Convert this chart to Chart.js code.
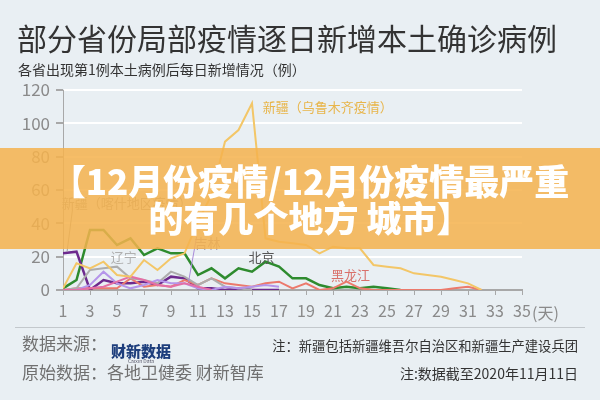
<!DOCTYPE html>
<html>
<head>
<meta charset="utf-8">
<script src="https://cdn.jsdelivr.net/npm/chart.js@4/dist/chart.umd.min.js"></script>
<style>
  html, body { margin: 0; padding: 0; }
  body { width: 600px; height: 400px; background: #e9eff3; position: relative; overflow: hidden;
         font-family: "Noto Sans CJK SC", "Noto Sans", sans-serif; }
  #chart { position: absolute; left: 0; top: 0; }
  .t { position: absolute; white-space: nowrap; }
  #title { left: 17px; top: 22px; font-size: 30px; line-height: 30px; color: #333; }
  #subtitle { left: 18px; top: 62px; font-size: 14px; line-height: 14px; color: #333; }
  #banner { position: absolute; left: 0; top: 148px; width: 600px; height: 101px;
            background: rgba(245, 178, 78, 0.86); }
  #banner div { position: absolute; left: 20px; width: 580px; text-align: center; color: #fff;
                font-weight: 900; font-size: 35px; line-height: 37px; white-space: nowrap; }
  #day { left: 532px; top: 303px; font-size: 16px; line-height: 18px; color: #8a8a8a; }
  #sep { position: absolute; left: 15px; top: 327px; width: 570px; height: 1px; background: #c3c8cc; }
  #src { left: 22px; top: 334px; font-size: 17px; line-height: 18px; color: #707070; }
  #logo { left: 111px; top: 343px; color: #1d3e7c; font-weight: 900; font-size: 15px; line-height: 15px; }
  #logo small { display: block; font-size: 5px; line-height: 5px; font-weight: normal; text-align: center; color: #556; }
  #note1 { right: 22px; top: 339px; font-size: 13.3px; line-height: 14px; color: #333; }
  #orig { left: 22px; top: 363px; font-size: 17px; line-height: 18px; color: #707070; }
  #note2 { right: 22px; top: 366px; font-size: 14px; line-height: 14px; color: #333; }
</style>
</head>
<body>
<canvas id="chart" width="600" height="400"></canvas>
<div class="t" id="title">部分省份局部疫情逐日新增本土确诊病例</div>
<div class="t" id="subtitle">各省出现第1例本土病例后每日新增情况（例）</div>
<div class="t" id="day">(天)</div>
<div id="sep"></div>
<div class="t" id="src">数据来源：</div>
<div class="t" id="logo">财新数据<small>Caixin Data</small></div>
<div class="t" id="note1">注：新疆包括新疆维吾尔自治区和新疆生产建设兵团</div>
<div class="t" id="orig">原始数据：各地卫健委 财新智库</div>
<div class="t" id="note2">注:数据截至2020年11月11日</div>
<div id="banner">
  <div style="top: 13px;">【12月份疫情/12月份疫情最严重</div>
  <div style="top: 50px;">的有几个地方 城市】</div>
</div>
<script>
// daily new local cases, day 1 = first local case in each province
const urumqi = [1, 16, 13, 17, 9, 8, 18, 12, 19, 22, 41, 57, 89, 96, 112, 31, 29, 28, 27, 22, 26, 25, 25, 15, 14, 13, 10, 9, 8, 6, 4, 0];
const beijing = [1, 6, 36, 36, 27, 31, 21, 25, 22, 22, 9, 13, 7, 13, 11, 17, 14, 7, 7, 3, 1, 2, 1, 2, 1, 0];
const kashgar = [22, 23, 0, 6, 4, 4, 5, 3, 8, 7, 1, 1, 0, 1, 0, 0, 0];
const liaoning = [0, 1, 12, 13, 14, 7, 6, 4, 11, 8, 3, 7, 2, 1, 0];
const jilin = [0, 0, 3, 11, 4, 1, 3, 6, 4, 4, 1, 0, 2, 1, 2, 3, 2];
const heilongjiang = [0, 1, 1, 1, 1, 7, 2, 3, 2, 6, 3, 7, 4, 3, 2, 4, 5, 1, 4, 0, 1, 5, 1, 0, 0, 0, 0, 0, 0, 1, 2, 0];
const other = [0, 0, 1, 2, 5, 8, 6, 3, 2, 4, 2, 0];

const xTicks = [1, 35, 2];      // min, max, step
const yTicks = [0, 120, 20];

// text labels next to the lines, placed in data units (day, cases)
const notes = [
    { text: '新疆（乌鲁木齐疫情）', day: 15.8, v: 110, color: '#e8b54a', align: 'left' },
    { text: '新疆（喀什地区疫情）', day: 0.9, v: 52, color: '#9a9a9a', align: 'left' },
    { text: '辽宁', day: 5.5, v: 20, color: '#b0b0b0', align: 'center' },
    { text: '吉林', day: 11.7, v: 28, color: '#9a90a8', align: 'center' },
    { text: '北京', day: 15.7, v: 20, color: '#555', align: 'center' },
    { text: '黑龙江', day: 22.3, v: 9, color: '#d9706a', align: 'center' }
];
const leaders = [
    { from: [1.7, 48], to: [1.3, 23], color: '#a0a0a0' },
    { from: [10.9, 32], to: [10.3, 5], color: '#a88ad8' }
];

const pts = arr => arr.map((v, i) => ({ x: i + 1, y: v }));
const line = (label, arr, color, w) => ({
    label: label, data: pts(arr), borderColor: color, backgroundColor: color,
    borderWidth: w || 2, pointRadius: 0, tension: 0
});

const notesPlugin = {
    id: 'notes',
    afterDatasetsDraw(chart) {
        const ctx = chart.ctx, x = chart.scales.x, y = chart.scales.y;
        ctx.save();
        leaders.forEach(l => {
            ctx.strokeStyle = l.color;
            ctx.lineWidth = 1;
            ctx.beginPath();
            ctx.moveTo(x.getPixelForValue(l.from[0]), y.getPixelForValue(l.from[1]));
            ctx.lineTo(x.getPixelForValue(l.to[0]), y.getPixelForValue(l.to[1]));
            ctx.stroke();
        });
        ctx.font = '13px "Noto Sans CJK SC"';
        ctx.textBaseline = 'middle';
        notes.forEach(n => {
            ctx.fillStyle = n.color;
            ctx.textAlign = n.align;
            ctx.fillText(n.text, x.getPixelForValue(n.day), y.getPixelForValue(n.v));
        });
        ctx.restore();
    }
};

new Chart(document.getElementById('chart'), {
    type: 'line',
    data: {
        datasets: [
            line('新疆（乌鲁木齐）', urumqi, '#f3c667'),
            line('其他', other, '#e46fa6'),
            line('吉林', jilin, '#b595ea'),
            line('辽宁', liaoning, '#adadad'),
            line('黑龙江', heilongjiang, '#ec7a6c'),
            line('新疆（喀什）', kashgar, '#6d2a8e', 2.5),
            line('北京', beijing, '#2e8b2e', 2.5)
        ]
    },
    options: {
        responsive: false,
        animation: false,
        devicePixelRatio: 1,
        layout: { padding: { top: 90, right: 78, left: 0, bottom: 0 } },
        plugins: { legend: { display: false }, tooltip: { enabled: false } },
        scales: {
            x: {
                type: 'linear', min: xTicks[0], max: xTicks[1],
                ticks: { stepSize: xTicks[2], color: '#8a8a8a', font: { family: 'Noto Sans CJK SC', size: 16 }, padding: 6, maxRotation: 0, autoSkip: false },
                grid: { drawOnChartArea: false, drawTicks: true, tickLength: 5, color: '#a8a8a8' },
                border: { color: '#a8a8a8', width: 2 },
                afterFit(scale) { scale.height = 110; }
            },
            y: {
                min: yTicks[0], max: yTicks[1],
                ticks: { stepSize: yTicks[2], color: '#8a8a8a', font: { family: 'Noto Sans CJK SC', size: 17 }, padding: 6 },
                grid: {
                    color: ctx => ctx.tick && ctx.tick.value === 0 ? 'rgba(0,0,0,0)' : '#ffffff',
                    lineWidth: 2, tickColor: '#a8a8a8', tickLength: 7
                },
                border: { color: '#a8a8a8', width: 1 },
                afterFit(scale) { scale.width = 63; }
            }
        }
    },
    plugins: [notesPlugin]
});
</script>
</body>
</html>
